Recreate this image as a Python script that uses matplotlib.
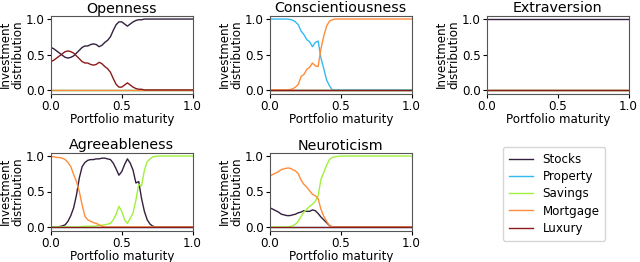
import matplotlib
matplotlib.use("Agg")
import matplotlib.pyplot as plt

# ---------------- data ----------------
maturity = [0.00, 0.02, 0.04, 0.06, 0.08, 0.10, 0.12, 0.14, 0.16, 0.18,
            0.20, 0.22, 0.24, 0.26, 0.28, 0.30, 0.32, 0.34, 0.36, 0.38,
            0.40, 0.42, 0.44, 0.46, 0.48, 0.50, 0.52, 0.54, 0.56, 0.58,
            0.60, 0.62, 0.64, 0.66, 0.68, 0.70, 0.72, 0.74, 0.76, 0.78,
            0.80, 1.00]

categories = ["Stocks", "Property", "Savings", "Mortgage", "Luxury"]
traits = ["Openness", "Conscientiousness", "Extraversion",
          "Agreeableness", "Neuroticism"]

zeros = [0.0, 0.0, 0.0, 0.0, 0.0, 0.0, 0.0, 0.0, 0.0, 0.0,
         0.0, 0.0, 0.0, 0.0, 0.0, 0.0, 0.0, 0.0, 0.0, 0.0,
         0.0, 0.0, 0.0, 0.0, 0.0, 0.0, 0.0, 0.0, 0.0, 0.0,
         0.0, 0.0, 0.0, 0.0, 0.0, 0.0, 0.0, 0.0, 0.0, 0.0,
         0.0, 0.0]
ones = [1.0, 1.0, 1.0, 1.0, 1.0, 1.0, 1.0, 1.0, 1.0, 1.0,
        1.0, 1.0, 1.0, 1.0, 1.0, 1.0, 1.0, 1.0, 1.0, 1.0,
        1.0, 1.0, 1.0, 1.0, 1.0, 1.0, 1.0, 1.0, 1.0, 1.0,
        1.0, 1.0, 1.0, 1.0, 1.0, 1.0, 1.0, 1.0, 1.0, 1.0,
        1.0, 1.0]

# Openness
open_stocks = [0.60, 0.58, 0.55, 0.52, 0.49, 0.46, 0.45, 0.46, 0.48, 0.52,
               0.56, 0.60, 0.62, 0.62, 0.64, 0.65, 0.64, 0.61, 0.63, 0.67,
               0.70, 0.75, 0.84, 0.92, 0.96, 0.96, 0.93, 0.90, 0.93, 0.96,
               0.98, 0.99, 0.99, 1.00, 1.00, 1.00, 1.00, 1.00, 1.00, 1.00,
               1.00, 1.00]
open_luxury = [0.40, 0.42, 0.45, 0.48, 0.51, 0.54, 0.55, 0.54, 0.52, 0.48,
               0.44, 0.40, 0.38, 0.38, 0.36, 0.35, 0.36, 0.39, 0.37, 0.33,
               0.30, 0.25, 0.16, 0.08, 0.04, 0.04, 0.07, 0.10, 0.07, 0.04,
               0.02, 0.01, 0.01, 0.00, 0.00, 0.00, 0.00, 0.00, 0.00, 0.00,
               0.00, 0.00]

# Conscientiousness
cons_property = [1.00, 1.00, 1.00, 1.00, 1.00, 1.00, 1.00, 0.995, 0.985, 0.96,
                 0.92, 0.83, 0.78, 0.71, 0.68, 0.61, 0.67, 0.69, 0.45, 0.30,
                 0.14, 0.06, 0.00, 0.00, 0.00, 0.00, 0.00, 0.00, 0.00, 0.00,
                 0.00, 0.00, 0.00, 0.00, 0.00, 0.00, 0.00, 0.00, 0.00, 0.00,
                 0.00, 0.00]
cons_mortgage = [0.00, 0.00, 0.00, 0.00, 0.00, 0.00, 0.00, 0.005, 0.015, 0.04,
                 0.08, 0.19, 0.22, 0.29, 0.32, 0.38, 0.34, 0.33, 0.58, 0.76,
                 0.90, 0.97, 0.99, 1.00, 1.00, 1.00, 1.00, 1.00, 1.00, 1.00,
                 1.00, 1.00, 1.00, 1.00, 1.00, 1.00, 1.00, 1.00, 1.00, 1.00,
                 1.00, 1.00]

# Agreeableness
agr_stocks = [0.00, 0.00, 0.00, 0.005, 0.015, 0.03, 0.08, 0.16, 0.27, 0.45,
              0.69, 0.85, 0.91, 0.94, 0.95, 0.95, 0.96, 0.96, 0.97, 0.97,
              0.96, 0.95, 0.90, 0.82, 0.73, 0.78, 0.88, 0.96, 0.90, 0.80,
              0.62, 0.64, 0.40, 0.22, 0.10, 0.04, 0.01, 0.00, 0.00, 0.00,
              0.00, 0.00]
agr_savings = [0.00, 0.00, 0.00, 0.00, 0.00, 0.00, 0.00, 0.00, 0.00, 0.00,
               0.00, 0.005, 0.01, 0.01, 0.01, 0.01, 0.015, 0.02, 0.025, 0.03,
               0.04, 0.05, 0.10, 0.18, 0.29, 0.22, 0.10, 0.05, 0.12, 0.20,
               0.38, 0.60, 0.58, 0.80, 0.92, 0.96, 0.99, 0.995, 1.00, 1.00,
               1.00, 1.00]
agr_mortgage = [0.99, 0.99, 0.98, 0.98, 0.97, 0.95, 0.91, 0.85, 0.74, 0.64,
                0.50, 0.31, 0.15, 0.10, 0.08, 0.06, 0.05, 0.03, 0.01, 0.00,
                0.00, 0.00, 0.00, 0.00, 0.00, 0.00, 0.00, 0.00, 0.00, 0.00,
                0.00, 0.00, 0.00, 0.00, 0.00, 0.00, 0.00, 0.00, 0.00, 0.00,
                0.00, 0.00]

# Neuroticism
neu_stocks = [0.27, 0.25, 0.23, 0.21, 0.18, 0.17, 0.16, 0.16, 0.17, 0.18,
              0.20, 0.21, 0.23, 0.22, 0.22, 0.24, 0.23, 0.19, 0.14, 0.10,
              0.06, 0.02, 0.00, 0.00, 0.00, 0.00, 0.00, 0.00, 0.00, 0.00,
              0.00, 0.00, 0.00, 0.00, 0.00, 0.00, 0.00, 0.00, 0.00, 0.00,
              0.00, 0.00]
neu_savings = [0.00, 0.00, 0.00, 0.00, 0.00, 0.00, 0.00, 0.005, 0.015, 0.04,
               0.08, 0.15, 0.21, 0.25, 0.29, 0.32, 0.36, 0.44, 0.67, 0.77,
               0.87, 0.95, 0.98, 0.99, 0.995, 1.00, 1.00, 1.00, 1.00, 1.00,
               1.00, 1.00, 1.00, 1.00, 1.00, 1.00, 1.00, 1.00, 1.00, 1.00,
               1.00, 1.00]
neu_mortgage = [0.72, 0.74, 0.76, 0.78, 0.81, 0.82, 0.83, 0.83, 0.81, 0.79,
                0.75, 0.66, 0.60, 0.56, 0.51, 0.46, 0.44, 0.40, 0.25, 0.15,
                0.08, 0.02, 0.00, 0.00, 0.00, 0.00, 0.00, 0.00, 0.00, 0.00,
                0.00, 0.00, 0.00, 0.00, 0.00, 0.00, 0.00, 0.00, 0.00, 0.00,
                0.00, 0.00]

panels = {
    "Openness": [open_stocks, zeros, zeros, zeros, open_luxury],
    "Conscientiousness": [zeros, cons_property, zeros, cons_mortgage, zeros],
    "Extraversion": [ones, zeros, zeros, zeros, zeros],
    "Agreeableness": [agr_stocks, zeros, agr_savings, agr_mortgage, zeros],
    "Neuroticism": [neu_stocks, zeros, neu_savings, neu_mortgage, zeros],
}

tick_values = [0.0, 0.5, 1.0]
tick_labels = ["0.0", "0.5", "1.0"]

# ---------------- styling ----------------
colors = ["#33203f", "#33bbf0", "#a0f03c", "#ff8c3a", "#8b1a1a"]
W, H = 640, 262
fig = plt.figure(figsize=(6.4, 2.62), dpi=100)

col_left = [51, 270, 487]
row_top = [15.5, 152.5]
ax_w, ax_h = 141.5, 78

positions = [(0, 0), (1, 0), (2, 0), (0, 1), (1, 1)]
lab_fs = 8.6
handles = None
for trait, (c, r) in zip(traits, positions):
    left = col_left[c] / W
    bottom = 1 - (row_top[r] + ax_h) / H
    ax = fig.add_axes([left, bottom, ax_w / W, ax_h / H])
    lines = []
    for name, series, col in zip(categories, panels[trait], colors):
        ln, = ax.plot(maturity, series, color=col, lw=1.0, label=name)
        lines.append(ln)
    if handles is None:
        handles = lines
    ax.set_xlim(0, 1)
    ax.set_ylim(-0.05, 1.05)
    ax.set_xticks(tick_values)
    ax.set_xticklabels(tick_labels)
    ax.set_yticks(tick_values)
    ax.set_yticklabels(tick_labels)
    ax.tick_params(labelsize=lab_fs, length=3, width=0.8, pad=1.5)
    ax.set_title(trait, fontsize=10.3, pad=2)
    ax.set_xlabel("Portfolio maturity", fontsize=lab_fs, labelpad=0)
    ax.set_ylabel("Investment\ndistribution", fontsize=lab_fs,
                  labelpad=1, linespacing=0.95)
    for sp in ax.spines.values():
        sp.set_linewidth(0.8)
        sp.set_color("#555555")

fig.legend(handles, categories, loc="upper left",
           bbox_to_anchor=(503 / W, 1 - 147 / H), borderaxespad=0,
           fontsize=lab_fs, frameon=True, handlelength=2.0,
           labelspacing=0.35, borderpad=0.5)

fig.savefig("out.png", dpi=100)
